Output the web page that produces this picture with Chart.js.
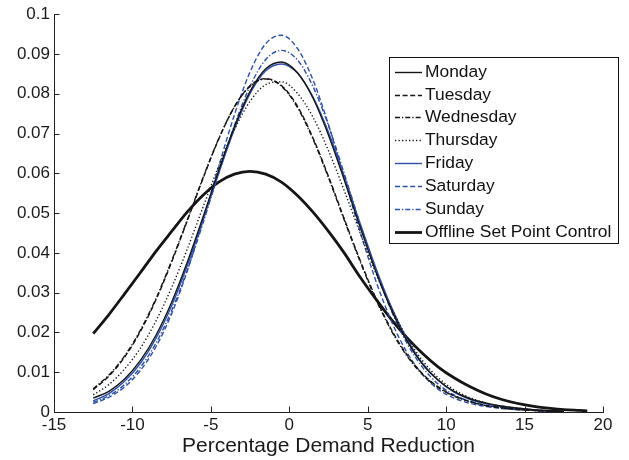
<!DOCTYPE html>
<html>
<head>
<meta charset="utf-8">
<script src="https://cdn.jsdelivr.net/npm/chart.js@4.4.1/dist/chart.umd.min.js"></script>
<style>
  html, body { margin: 0; padding: 0; background: #fff; }
  #wrap { width: 629px; height: 460px; }
</style>
</head>
<body>
<div id="wrap"><canvas id="densityChart" width="629" height="460"></canvas></div>
<script>
// x positions (percentage demand reduction) for the daily curves
const xDays = [-12.5, -11.5, -10.5, -9.5, -8.5, -7.5, -6.5, -5.5, -4.5, -3.5, -2.5, -1.5, -0.5, 0.5, 1.5,
  2.5, 3.5, 4.5, 5.5, 6.5, 7.5, 8.5, 9.5, 10.5, 11.5, 12.5, 13.5, 14.5, 15.5, 16.5, 17.5];
// x positions for the offline curve (runs a little further right)
const xOffline = [-12.5, -11.5, -10.5, -9.5, -8.5, -7.5, -6.5, -5.5, -4.5, -3.5, -2.5, -1.5, -0.5, 0.5, 1.5,
  2.5, 3.5, 4.5, 5.5, 6.5, 7.5, 8.5, 9.5, 10.5, 11.5, 12.5, 13.5, 14.5, 15.5, 16.5, 17.5, 18.5, 19];

// density values
const monday    = [0.0035, 0.0052, 0.0083, 0.0129, 0.0193, 0.0276, 0.0377, 0.0490, 0.0607, 0.0717, 0.0806, 0.0863, 0.0880, 0.0854, 0.0790, 0.0696, 0.0584, 0.0467, 0.0355, 0.0258, 0.0179, 0.0120, 0.0080, 0.0052, 0.0034, 0.0023, 0.0015, 0.0010, 0.0006, 0.0004, 0.0002];
const tuesday   = [0.0056, 0.0090, 0.0138, 0.0202, 0.0282, 0.0377, 0.0481, 0.0587, 0.0686, 0.0767, 0.0820, 0.0838, 0.0821, 0.0770, 0.0690, 0.0592, 0.0486, 0.0383, 0.0288, 0.0208, 0.0144, 0.0096, 0.0063, 0.0041, 0.0027, 0.0017, 0.0011, 0.0007, 0.0004, 0.0002, 0.0001];
const wednesday = [0.0058, 0.0093, 0.0141, 0.0205, 0.0285, 0.0380, 0.0483, 0.0589, 0.0687, 0.0767, 0.0819, 0.0837, 0.0819, 0.0767, 0.0687, 0.0589, 0.0483, 0.0380, 0.0285, 0.0205, 0.0141, 0.0094, 0.0061, 0.0040, 0.0026, 0.0016, 0.0010, 0.0006, 0.0004, 0.0002, 0.0001];
const thursday  = [0.0043, 0.0069, 0.0108, 0.0160, 0.0229, 0.0313, 0.0410, 0.0515, 0.0618, 0.0710, 0.0781, 0.0823, 0.0830, 0.0802, 0.0742, 0.0657, 0.0557, 0.0452, 0.0351, 0.0262, 0.0187, 0.0129, 0.0086, 0.0056, 0.0036, 0.0023, 0.0015, 0.0010, 0.0006, 0.0003, 0.0002];
const friday    = [0.0028, 0.0046, 0.0077, 0.0122, 0.0185, 0.0267, 0.0368, 0.0482, 0.0600, 0.0711, 0.0801, 0.0858, 0.0875, 0.0853, 0.0793, 0.0703, 0.0593, 0.0476, 0.0364, 0.0265, 0.0184, 0.0122, 0.0079, 0.0050, 0.0032, 0.0021, 0.0013, 0.0008, 0.0005, 0.0003, 0.0002];
const saturday  = [0.0021, 0.0037, 0.0063, 0.0104, 0.0164, 0.0247, 0.0355, 0.0481, 0.0617, 0.0747, 0.0855, 0.0926, 0.0947, 0.0915, 0.0836, 0.0722, 0.0589, 0.0455, 0.0332, 0.0229, 0.0150, 0.0094, 0.0057, 0.0035, 0.0022, 0.0014, 0.0009, 0.0006, 0.0004, 0.0002, 0.0001];
const sunday    = [0.0024, 0.0041, 0.0069, 0.0112, 0.0173, 0.0255, 0.0357, 0.0475, 0.0600, 0.0720, 0.0819, 0.0886, 0.0909, 0.0886, 0.0819, 0.0720, 0.0600, 0.0475, 0.0357, 0.0255, 0.0173, 0.0112, 0.0070, 0.0043, 0.0027, 0.0017, 0.0011, 0.0007, 0.0004, 0.0002, 0.0001];
const offline   = [0.0197, 0.0245, 0.0297, 0.0350, 0.0404, 0.0454, 0.0503, 0.0545, 0.0578, 0.0598, 0.0605, 0.0598, 0.0578, 0.0545, 0.0503, 0.0454, 0.0400, 0.0340, 0.0285, 0.0233, 0.0187, 0.0147, 0.0113, 0.0086, 0.0064, 0.0046, 0.0032, 0.0022, 0.0015, 0.0010, 0.0006, 0.0004, 0.0003];

const labels = ['Monday', 'Tuesday', 'Wednesday', 'Thursday', 'Friday', 'Saturday', 'Sunday', 'Offline Set Point Control'];
const xTicks = [-15, -10, -5, 0, 5, 10, 15, 20];

const FONT = '"Liberation Sans", Arial, Helvetica, sans-serif';
const BLACK = '#151515';
const BLUE = '#2d50a8';

const pts = (xs, ys) => xs.map((x, i) => ({ x: x, y: ys[i] }));

function line(label, xs, ys, color, dash, width) {
  return {
    label: label,
    data: pts(xs, ys),
    borderColor: color,
    borderWidth: width || 1.4,
    borderDash: dash,
    pointRadius: 0,
    fill: false,
    cubicInterpolationMode: 'monotone'
  };
}

const DASH = [5, 2.6];
const DASHDOT = [5, 2, 1.3, 2];
const DOT = [1.3, 2.2];

// inward tick marks like the original (MATLAB style)
const innerTicks = {
  id: 'innerTicks',
  afterDraw(chart) {
    const { ctx, chartArea: a, scales: { x, y } } = chart;
    ctx.save();
    ctx.strokeStyle = '#222';
    ctx.lineWidth = 1;
    ctx.beginPath();
    x.ticks.forEach(t => {
      const px = Math.round(x.getPixelForValue(t.value)) + 0.5;
      ctx.moveTo(px, a.bottom);
      ctx.lineTo(px, a.bottom - 5.5);
    });
    y.ticks.forEach(t => {
      const py = Math.round(y.getPixelForValue(t.value)) + 0.5;
      ctx.moveTo(a.left, py);
      ctx.lineTo(a.left + 5.5, py);
    });
    ctx.stroke();
    ctx.restore();
  }
};

// boxed legend in the upper right, line samples with dash styles
const boxLegend = {
  id: 'boxLegend',
  afterDraw(chart) {
    const ctx = chart.ctx;
    const left = 389, top = 57, w = 229, h = 186, rowH = 22.85;
    ctx.save();
    ctx.fillStyle = '#fff';
    ctx.fillRect(left, top, w, h);
    ctx.strokeStyle = '#111';
    ctx.lineWidth = 1;
    ctx.strokeRect(left + 0.5, top + 0.5, w, h);
    ctx.font = '17.4px ' + FONT;
    ctx.textBaseline = 'middle';
    chart.data.datasets.forEach((ds, i) => {
      const cy = Math.round(top + 14.7 + i * rowH) + 0.5;
      ctx.strokeStyle = ds.borderColor;
      ctx.lineWidth = ds.borderWidth;
      ctx.setLineDash(ds.borderDash || []);
      ctx.beginPath();
      ctx.moveTo(left + 6, cy);
      ctx.lineTo(left + 33, cy);
      ctx.stroke();
      ctx.setLineDash([]);
      ctx.fillStyle = '#111';
      ctx.fillText(ds.label, left + 36, cy);
    });
    ctx.restore();
  }
};

const ctx = document.getElementById('densityChart').getContext('2d');
const densityChart = new Chart(ctx, {
  type: 'line',
  data: {
    datasets: [
      line(labels[0], xDays, monday, BLACK, []),
      line(labels[1], xDays, tuesday, BLACK, DASH),
      line(labels[2], xDays, wednesday, BLACK, DASHDOT),
      line(labels[3], xDays, thursday, BLACK, DOT),
      line(labels[4], xDays, friday, BLUE, []),
      line(labels[5], xDays, saturday, BLUE, DASH),
      line(labels[6], xDays, sunday, BLUE, DASHDOT),
      line(labels[7], xOffline, offline, BLACK, [], 2.8)
    ]
  },
  options: {
    responsive: false,
    animation: false,
    devicePixelRatio: 1,
    layout: { padding: { top: 12, right: 26, left: 0, bottom: 0 } },
    plugins: {
      legend: { display: false },
      tooltip: { enabled: false }
    },
    scales: {
      x: {
        type: 'linear',
        min: -15,
        max: 20,
        afterFit: s => { s.height = 48; },
        afterBuildTicks: s => { s.ticks = xTicks.map(v => ({ value: v })); },
        grid: { display: true, drawOnChartArea: false, drawTicks: false },
        border: { display: true, color: '#222', width: 1 },
        ticks: {
          autoSkip: false,
          maxRotation: 0,
          padding: 3,
          color: '#1a1a1a',
          font: { family: FONT, size: 17 }
        },
        title: {
          display: true,
          text: 'Percentage Demand Reduction',
          color: '#1a1a1a',
          font: { family: FONT, size: 21 },
          padding: { top: 0, bottom: 1 }
        }
      },
      y: {
        min: 0,
        max: 0.1,
        afterFit: s => { s.width = 54; },
        grid: { display: true, drawOnChartArea: false, drawTicks: false },
        border: { display: true, color: '#222', width: 1 },
        ticks: {
          stepSize: 0.01,
          padding: 4,
          color: '#1a1a1a',
          font: { family: FONT, size: 17 },
          callback: v => String(+Number(v).toFixed(2))
        }
      }
    }
  },
  plugins: [innerTicks, boxLegend]
});
</script>
</body>
</html>
